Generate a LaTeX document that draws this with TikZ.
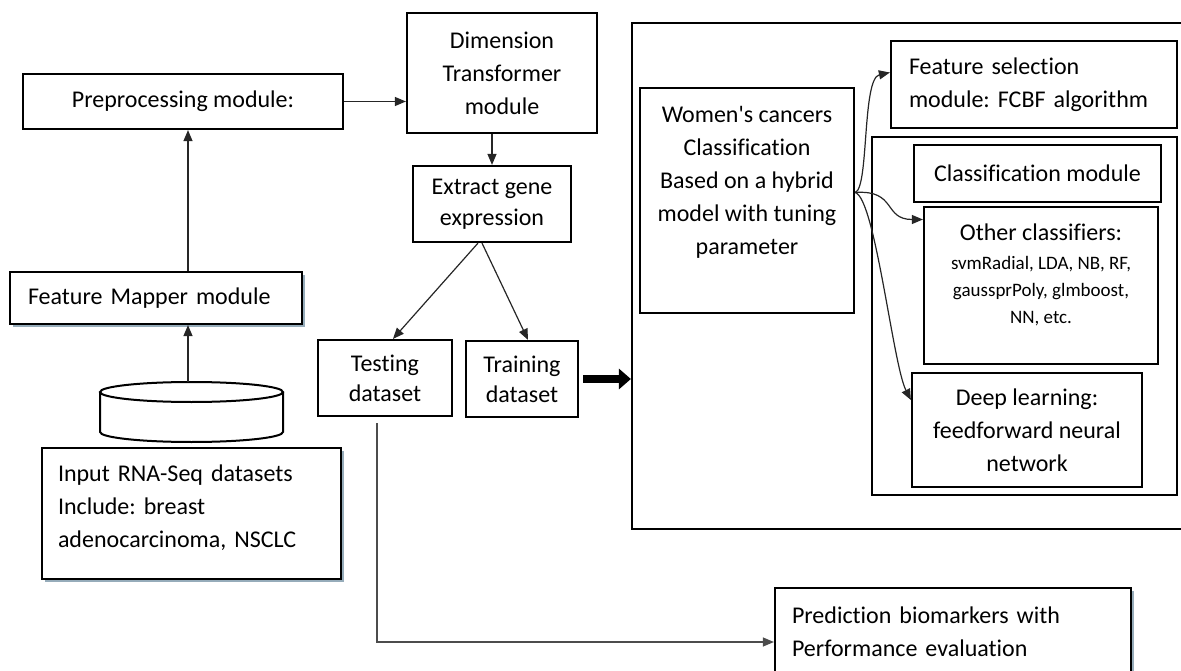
\documentclass[tikz,border=0pt]{standalone}
\usepackage{fontspec}
\setmainfont{Carlito}[Ligatures={NoCommon}]
\usetikzlibrary{arrows.meta, shadows}
\definecolor{shadowgray}{RGB}{150,172,186}
\frenchspacing

\begin{document}
\begin{tikzpicture}[x=1pt, y=-1pt, line width=2pt,
  box/.style={draw=black, line width=2.2pt, fill=white, inner sep=0pt, align=center,
              font=\fontsize{24}{33}\selectfont},
  shadowbox/.style={box, drop shadow={shadow xshift=3pt, shadow yshift=-3pt, fill=shadowgray, opacity=1}},
  frame/.style={draw=black, line width=2.2pt, inner sep=0pt},
  link/.style={draw=black!85, line width=1.2pt, -{Triangle[length=11pt, width=9pt]}}]

\useasboundingbox (0,0) rectangle (1181,671);

% draw frames of the model part
\node[frame, minimum width=560pt, minimum height=506pt] (pipeline) at (912,276) {};
\node[frame, line width=1.2pt, minimum width=305pt, minimum height=358pt] (clsframe) at (1024.5,316) {};

% draw input side
\node[shadowbox, align=left, inner xsep=16pt, text width=267pt, minimum height=131pt] (input) at (191.5,513.5)
     {Input RNA-Seq datasets\\Include: breast\\adenocarcinoma, NSCLC\\[-18pt]~};
\node[shadowbox, align=left, inner xsep=18pt, text width=256pt, minimum height=52pt] (mapper) at (156,298)
     {Feature Mapper module};
\node[box, minimum width=320pt, minimum height=55pt] (prep) at (183,101.5) {Preprocessing module:};

% draw database cylinder
\draw (191.5,392) ellipse [x radius=91.5, y radius=10];
\draw (100,392) -- (100,432) arc [start angle=180, end angle=0, x radius=91.5, y radius=10] -- (283,392);
\coordinate (dbtop) at (188,382);

% draw middle column
\node[box, minimum width=190pt, minimum height=120pt] (dimtr) at (502,73) {Dimension\\Transformer\\module};
\node[box, font=\fontsize{24}{31}\selectfont, minimum width=158pt, minimum height=76pt] (extract) at (492,204) {Extract gene\\expression};
\node[box, font=\fontsize{24}{30}\selectfont, minimum width=134pt, minimum height=76pt] (testing) at (385,378) {Testing\\dataset};
\node[box, font=\fontsize{24}{30}\selectfont, minimum width=112pt, minimum height=76pt] (training) at (522,379) {Training\\dataset};

% draw model boxes
\node[box, minimum width=214pt, minimum height=225pt] (women) at (747,200.5)
     {Women\textquotesingle s cancers\\Classification\\Based on a hybrid\\model with tuning\\parameter\\[8pt]~};
\node[box, align=left, inner xsep=18pt, text width=250pt, minimum height=87pt] (featsel) at (1034,84.5)
     {Feature selection\\module: FCBF algorithm};
\node[box, minimum width=247pt, minimum height=57pt] (clsmod) at (1037.5,173.5) {Classification module};
\node[box, font=\fontsize{19}{27}\selectfont, minimum width=234pt, minimum height=157pt] (other) at (1041,285.5)
     {{\fontsize{24}{27}\selectfont Other classifiers:}\\[2pt]svmRadial, LDA, NB, RF,\\gaussprPoly, glmboost,\\NN, etc.\\[-4pt]~};
\node[box, minimum width=230pt, minimum height=114pt] (deep) at (1027,430) {Deep learning:\\feedforward neural\\network};
\node[shadowbox, align=left, inner xsep=17pt, text width=322pt, minimum height=88pt] (predict) at (953,632)
     {Prediction biomarkers with\\Performance evaluation};

% draw arrows
\draw[link] (prep.east) -- (prep.east -| dimtr.west);
\draw[link] (dimtr.south -| extract.north) -- (extract.north);
\draw[link] ([xshift=-14pt]extract.south) -- ([xshift=8pt]testing.north);
\draw[link] ([xshift=-10pt]extract.south) -- ([xshift=6pt]training.north);
\draw[link] ([xshift=5pt]prep.south |- mapper.north) -- ([xshift=5pt]prep.south);
\draw[link] (dbtop) -- (dbtop |- mapper.south);
\draw[link, draw=black!70] ([xshift=-8pt, yshift=-6pt]testing.south) |- ([yshift=-10pt]predict.west);
\draw[line width=8pt, -{Triangle[length=12pt, width=20pt]}] ([xshift=4pt]training.east) -- (training.east -| pipeline.west);

% draw curved arrows from the hybrid model
\coordinate (wsrc) at ([yshift=8pt]women.east);
\draw[link] (wsrc) .. controls +(14,-4) and +(-28,6) .. ([yshift=12pt]featsel.west);
\draw[link] (wsrc) .. controls +(42,-3) and +(-40,0) .. ([yshift=66pt]other.west);
\draw[link] (wsrc) .. controls +(20,5) and +(-18,-35) .. ([yshift=30pt]deep.west);

\end{tikzpicture}
\end{document}
